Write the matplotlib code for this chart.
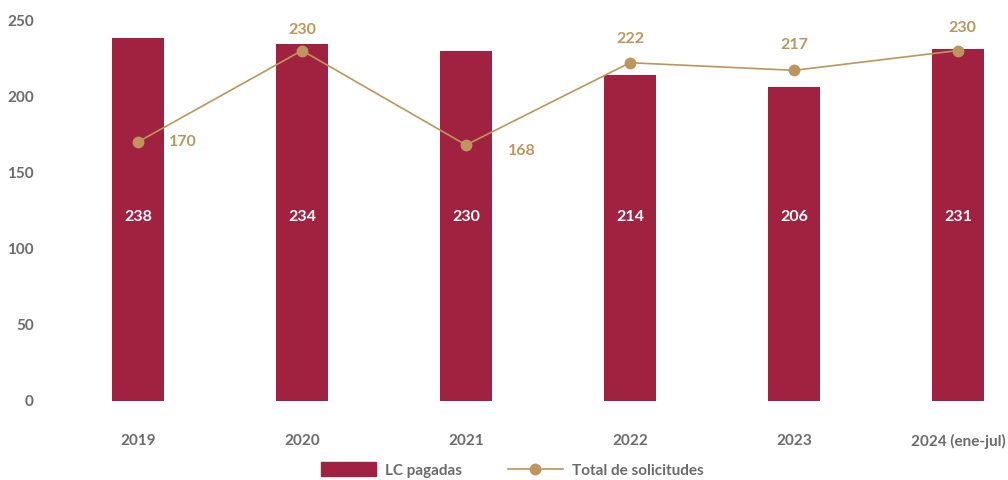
import numpy as np
import matplotlib
matplotlib.use("Agg")
import matplotlib.pyplot as plt
from matplotlib.lines import Line2D
from matplotlib.patches import Patch

# data
years = ["2019", "2020", "2021", "2022", "2023", "2024 (ene-jul)"]
lc_pagadas = [238, 234, 230, 214, 206, 231]
total_solicitudes = [170, 230, 168, 222, 217, 230]

BAR = "#A02240"
GOLD = "#BE955C"
GREY = "#6b6b6b"

plt.rcParams.update({"font.family": ["Lato", "DejaVu Sans"],
                     "font.weight": "bold"})

fig = plt.figure(figsize=(10.08, 4.8), dpi=100)
ax = fig.add_axes([45 / 1008, 1 - 406 / 480, 1 - 45 / 1008, (406 - 10) / 480])

x = np.arange(len(years))
ax.bar(x, lc_pagadas, width=0.317, color=BAR, zorder=2)
for xi, v in zip(x, lc_pagadas):
    ax.text(xi, 121, str(v), ha="center", va="center", color="white",
            fontsize=11.5, fontweight="bold", zorder=4)

ax.plot(x, total_solicitudes, color=GOLD, lw=1.2, marker="o", ms=7.5, zorder=3)
# label offsets (points) relative to each marker
offs = [(32, 0), (0, 15), (40, -4), (0, 17), (0, 18), (3, 16)]
for xi, v, (dx, dy) in zip(x, total_solicitudes, offs):
    ax.annotate(str(v), (xi, v), xytext=(dx, dy), textcoords="offset points",
                ha="center", va="center", color=GOLD, fontsize=11.5, fontweight="bold")

ax.set_xlim(-0.567, 5.305)
ax.set_ylim(-3.3, 256.6)
ax.set_yticks([0, 50, 100, 150, 200, 250])
ax.set_xticks(x)
ax.set_xticklabels(years)
ax.tick_params(length=0, colors=GREY, labelsize=11)
ax.tick_params(axis="x", pad=20)
ax.tick_params(axis="y", pad=8)
for lab in ax.get_xticklabels() + ax.get_yticklabels():
    lab.set_fontweight("bold")
for s in ax.spines.values():
    s.set_visible(False)

handles = [Patch(color=BAR, label="LC pagadas"),
           Line2D([0], [0], color=GOLD, lw=1.2, marker="o", ms=7.5,
                  label="Total de solicitudes")]
leg = fig.legend(handles=handles, loc="center", bbox_to_anchor=(512 / 1008, 1 - 470 / 480),
                 ncol=2, frameon=False, prop={"size": 11, "weight": "bold"},
                 handlelength=3.6, handleheight=1.0,
                 columnspacing=3.0, handletextpad=0.6)
for t in leg.get_texts():
    t.set_color(GREY)

fig.savefig("out.png", dpi=100)
